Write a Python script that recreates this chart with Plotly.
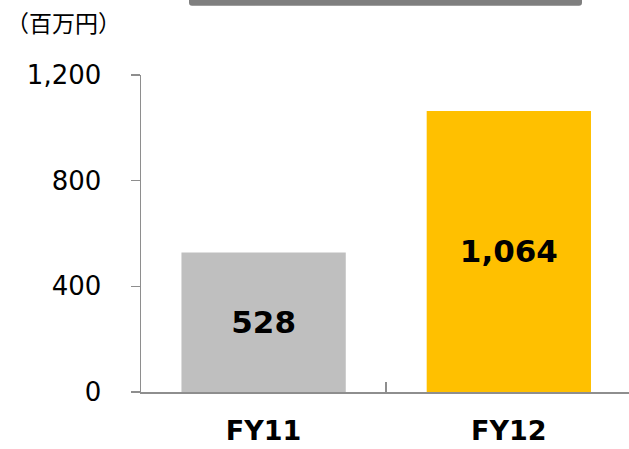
import plotly.graph_objects as go

categories = ["FY11", "FY12"]
values = [528, 1064]
bar_colors = ["#BFBFBF", "#FFC000"]
y_ticks = [0, 400, 800, 1200]
unit_label = "（百万円）"

W, H = 629, 449
ML, MR, MT, MB = 141, 0, 75, 57
pw = W - ML - MR
ph = H - MT - MB

def px(x):
    return (x - ML) / pw

def py(y):
    return (H - MB - y) / ph

fig = go.Figure()
fig.add_trace(go.Bar(
    x=categories, y=values,
    marker=dict(color=bar_colors, line=dict(width=0)),
    texttemplate="%{y:,}",
    textposition="inside",
    insidetextanchor="middle",
    constraintext="none",
    textfont=dict(family="DejaVu Sans", size=31, color="#000000", weight="bold"),
    hoverinfo="skip",
))

# decorative rounded gray bar at top (cut off by the page edge)
x0, x1, yb, yt, r = px(189), px(582), py(5.7), py(-12), 3
rx, ry = r / pw, r / ph
path = (f"M {x0},{yt} L {x1},{yt} L {x1},{yb+ry} Q {x1},{yb} {x1-rx},{yb} "
        f"L {x0+rx},{yb} Q {x0},{yb} {x0},{yb+ry} Z")
fig.add_shape(type="path", path=path, xref="paper", yref="paper",
              fillcolor="#7F7F7F", line=dict(width=0), layer="above")

fig.add_annotation(text=unit_label, xref="paper", yref="paper",
                   x=px(4), y=py(22), xanchor="left", yanchor="middle",
                   showarrow=False,
                   font=dict(family="Noto Sans CJK JP", size=23, color="#000000"))

fig.update_layout(
    width=W, height=H,
    margin=dict(l=ML, r=MR, t=MT, b=MB, pad=0, autoexpand=False),
    paper_bgcolor="white", plot_bgcolor="white",
    bargap=0.33, showlegend=False,
    xaxis=dict(
        range=[-0.5, 1.49], showgrid=False, zeroline=False, automargin=False,
        showline=True, linecolor="#8E8E8E", linewidth=1.5,
        ticks="inside", tickson="boundaries", ticklen=10, tickwidth=1.5, tickcolor="#8E8E8E",
        tickfont=dict(family="DejaVu Sans", size=27, color="#000000", weight="bold"),
        ticklabelstandoff=14,
    ),
    yaxis=dict(
        range=[0, 1200], tickvals=y_ticks, tickformat=",", automargin=False,
        showgrid=False, zeroline=False,
        showline=True, linecolor="#8E8E8E", linewidth=1.5,
        ticks="outside", ticklen=9, tickwidth=1.5, tickcolor="#8E8E8E",
        tickfont=dict(family="DejaVu Sans", size=26, color="#000000"),
        ticklabelstandoff=24,
    ),
)

fig.write_html("out.html",
               config={"displayModeBar": False, "staticPlot": True},
               post_script="document.body.style.margin='0';document.body.style.overflow='hidden';")
